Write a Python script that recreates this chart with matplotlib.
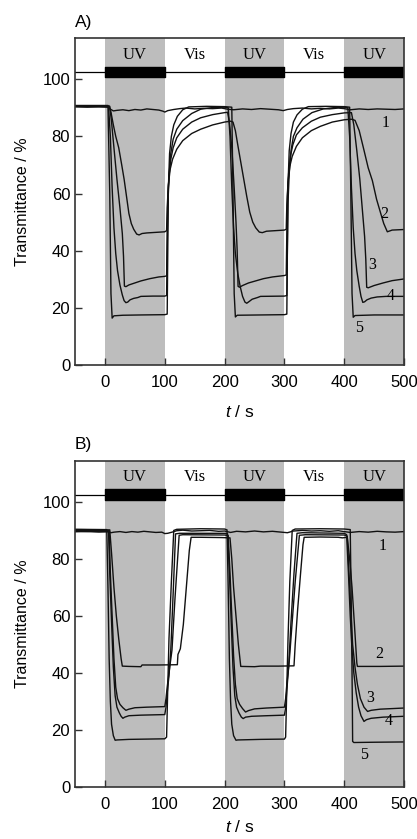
import matplotlib
matplotlib.use('Agg')
import matplotlib.pyplot as plt

plt.rcParams['font.family'] = ['Liberation Sans', 'DejaVu Sans']
plt.rcParams['mathtext.fontset'] = 'custom'
plt.rcParams['mathtext.it'] = 'Liberation Sans:italic'
plt.rcParams['mathtext.rm'] = 'Liberation Sans'

# light periods
uv_starts = [0, 200, 400]
vis_starts = [100, 300]
period = 100

# Panel A traces, (t / s, transmittance / %)
A1 = [(-50, 90.3), (-30, 90.2), (-10, 90.3), (5, 90.2), (10, 89.4), (14, 88.9), (20, 89.1), (30, 89.3),
      (40, 89.0), (50, 89.4), (60, 89.2), (70, 89.6), (80, 89.4), (90, 89.2), (97, 88.8), (100, 88.5),
      (105, 89.0), (115, 89.4), (125, 89.7), (135, 89.9), (150, 89.6), (165, 89.8), (180, 89.7),
      (195, 89.9), (205, 89.5), (215, 89.3), (230, 89.6), (245, 89.4), (260, 89.7), (275, 89.5),
      (290, 89.3), (298, 89.0), (305, 89.4), (315, 89.7), (330, 89.9), (345, 89.6), (360, 89.8),
      (375, 89.6), (390, 89.9), (400, 89.7), (410, 89.3), (425, 89.6), (440, 89.4), (455, 89.6),
      (470, 89.5), (485, 89.4), (500, 89.6)]
A2 = [(-50, 90.7), (7, 90.6), (10, 88.5), (14, 84), (18, 80), (23, 76), (28, 70), (32, 65), (36, 59),
      (40, 53), (44, 49.5), (48, 47.5), (53, 45.8), (57, 45.5), (62, 46.0), (70, 46.2), (85, 46.4),
      (100, 46.6), (103, 47), (104, 55), (106, 63), (109, 68.5), (113, 72), (120, 75.5), (130, 78.5),
      (145, 81), (160, 82.5), (180, 84), (200, 85), (210, 85.3), (214, 85.0), (218, 82), (222, 77),
      (227, 71), (232, 65), (237, 59), (242, 53.5), (247, 50), (252, 48), (258, 46.5), (263, 46.3),
      (270, 46.8), (285, 47.0), (300, 47.2), (303, 47.5), (304, 56), (306, 64), (309, 69.5), (313, 73),
      (320, 76.5), (330, 79.5), (345, 82), (360, 83.5), (380, 85), (400, 85.8), (412, 86.0),
      (418, 85.6), (425, 82), (432, 76), (440, 69), (447, 64.5), (454, 58), (461, 53), (466, 49.5),
      (472, 46.6), (480, 47.2), (490, 47.3), (500, 47.4)]
A3 = [(-50, 90.6), (8, 90.5), (11, 85), (15, 76), (20, 65), (25, 55), (29, 46), (31, 38), (32.5, 27.6),
      (35, 27.4), (40, 28.0), (50, 28.7), (60, 29.4), (75, 30.2), (90, 30.8), (100, 31.0), (103, 31.2),
      (104, 45), (105, 58), (107, 66), (110, 72), (114, 76), (120, 79.5), (130, 82.5), (145, 85),
      (160, 86.5), (180, 87.6), (200, 88.3), (205, 88.4), (208, 85), (212, 76), (216, 62), (219, 50),
      (221, 40), (222.5, 27.5), (225, 27.2), (230, 27.8), (240, 28.7), (250, 29.3), (265, 30.2),
      (280, 30.8), (300, 31.3), (303, 31.5), (304, 46), (305, 59), (307, 67), (310, 73), (314, 77),
      (320, 80.5), (330, 83), (345, 85.3), (360, 86.7), (380, 87.6), (400, 88.2), (412, 88.3),
      (416, 84), (421, 75), (426, 65), (430, 55), (434, 45), (436, 37), (437.5, 27.2), (440, 27.0),
      (450, 27.8), (465, 28.7), (480, 29.5), (500, 30.1)]
A4 = [(-50, 90.5), (6, 90.4), (9, 80), (12, 62), (15, 48), (18, 39), (21, 33), (25, 28), (29, 24.5),
      (32, 22.5), (35, 21.8), (38, 22.0), (42, 22.8), (48, 23.3), (55, 23.6), (60, 24.0), (80, 24.1),
      (100, 24.1), (103, 24.3), (104, 40), (105, 55), (107, 66), (110, 74), (114, 79), (120, 82.5),
      (130, 85.5), (145, 88), (160, 89.5), (180, 90.1), (200, 90.2), (206, 90.0), (209, 80), (212, 62),
      (215, 48), (218, 39), (222, 32), (226, 27.5), (230, 24), (234, 22), (237, 21.6), (241, 22.2),
      (246, 23), (255, 23.6), (260, 24), (300, 24.1), (304, 24.3), (305, 42), (306, 57), (308, 67),
      (311, 75), (315, 80), (321, 83), (331, 86), (346, 88.3), (365, 89.6), (385, 90.1), (400, 90.2),
      (406, 90.0), (409, 80), (412, 62), (415, 48), (418, 39), (421, 33), (425, 27.5), (428, 24),
      (431, 21.9), (434, 22.1), (438, 22.8), (445, 23.4), (455, 23.8), (470, 24.0), (500, 24.0)]
A5 = [(-50, 90.8), (5, 90.8), (8, 60), (10, 25), (12, 16.4), (15, 17.2), (30, 17.4), (60, 17.5),
      (100, 17.6), (104, 17.8), (105, 40), (106, 62), (108, 74), (111, 80), (115, 84), (121, 87),
      (130, 89.3), (140, 90.3), (170, 90.5), (200, 90.4), (212, 90.2), (214, 60), (216, 25), (218, 16.8),
      (221, 17.4), (260, 17.5), (300, 17.6), (304, 17.8), (305, 42), (306, 63), (308, 75), (311, 81),
      (315, 85), (321, 87.5), (330, 89.5), (340, 90.4), (370, 90.5), (400, 90.4), (409, 90.2),
      (411, 60), (413, 25), (415, 16.7), (418, 17.3), (450, 17.5), (500, 17.5)]

# Panel B traces
B1 = [(-50, 89.6), (-30, 89.8), (-10, 89.5), (5, 89.7), (10, 89.2), (15, 89.4), (25, 89.6), (35, 89.3),
      (45, 89.6), (55, 89.4), (65, 89.7), (75, 89.5), (85, 89.3), (95, 89.4), (100, 88.9), (105, 89.0),
      (112, 89.4), (120, 89.9), (130, 90.1), (145, 89.8), (160, 89.9), (175, 90.0), (190, 89.7),
      (200, 89.8), (210, 89.3), (220, 89.7), (235, 89.5), (250, 89.8), (265, 89.5), (280, 89.7),
      (295, 89.4), (305, 89.2), (315, 89.8), (330, 90.0), (345, 89.8), (360, 89.9), (375, 89.7),
      (390, 89.9), (400, 89.6), (410, 89.3), (425, 89.6), (440, 89.4), (455, 89.7), (470, 89.5),
      (485, 89.4), (500, 89.6)]
B2 = [(-50, 90.3), (8, 90.2), (11, 82), (15, 70), (19, 60), (23, 52), (27, 45), (29, 42.4), (40, 42.3),
      (60, 42.2), (62, 42.8), (90, 42.8), (121, 42.9), (122, 46.5), (126, 48.5), (131, 57), (136, 70),
      (141, 83), (144, 87.6), (160, 87.6), (195, 87.5), (209, 87.4), (212, 80), (215, 70), (219, 60),
      (223, 50), (227, 42.3), (250, 42.2), (260, 42.4), (290, 42.4), (316, 42.5), (318, 50), (322, 62),
      (327, 75), (331, 85), (333, 87.6), (360, 87.7), (390, 87.6), (397, 87.4), (405, 87.6), (409, 80),
      (413, 70), (417, 57), (421, 43.5), (422, 42.3), (460, 42.3), (500, 42.4)]
B3 = [(-50, 90.0), (7, 89.9), (9, 75), (12, 60), (15, 45), (18, 35), (21, 31), (25, 29), (30, 27.8),
      (35, 26.9), (40, 27.3), (50, 27.8), (70, 28.0), (100, 28.2), (102, 31), (104, 35), (107, 40),
      (112, 48), (117, 66), (124, 88.3), (130, 88.5), (200, 88.4), (206, 88.2), (209, 75), (212, 60),
      (215, 46), (218, 36), (221, 31), (225, 29), (230, 27.5), (235, 26.3), (240, 26.8), (250, 27.4),
      (270, 27.7), (300, 28.0), (302, 31), (304, 36), (308, 44), (313, 58), (318, 72), (325, 88.3),
      (335, 88.5), (400, 88.4), (405, 88.0), (408, 75), (411, 62), (414, 50), (418, 42), (422, 36),
      (427, 31), (433, 28), (439, 26.5), (445, 26.9), (460, 27.3), (480, 27.5), (500, 27.7)]
B4 = [(-50, 89.6), (6, 89.5), (8, 75), (11, 58), (14, 42), (17, 32), (20, 28), (24, 26), (27, 24.8),
      (30, 24.1), (33, 24.5), (40, 25.0), (60, 25.2), (100, 25.4), (102, 28), (104, 33), (107, 39),
      (110, 48), (114, 68), (118, 88.8), (125, 89.0), (200, 89.0), (205, 88.8), (208, 75), (211, 58),
      (214, 42), (217, 32), (220, 28), (224, 26), (228, 24.5), (231, 24.0), (235, 24.5), (245, 24.8),
      (270, 25.0), (300, 25.2), (302, 28), (304, 34), (307, 42), (311, 58), (316, 75), (321, 89.0),
      (330, 89.2), (400, 89.0), (404, 88.5), (407, 75), (410, 60), (413, 48), (416, 40), (420, 33),
      (424, 28), (428, 25), (433, 23.0), (437, 23.6), (445, 24.1), (465, 24.5), (500, 24.8)]
B5 = [(-50, 90.4), (3, 90.3), (5, 70), (7, 45), (9, 30), (11, 22), (14, 18), (17, 16.4), (20, 16.5),
      (40, 16.7), (70, 16.8), (100, 16.9), (103, 17.5), (105, 35), (107, 52), (111, 72), (115, 90.0),
      (120, 90.4), (160, 90.6), (200, 90.5), (204, 90.2), (206, 70), (208, 45), (210, 30), (212, 22),
      (215, 18), (219, 16.4), (222, 16.5), (260, 16.7), (300, 16.8), (302, 17.5), (304, 35), (306, 52),
      (309, 72), (313, 90.0), (318, 90.5), (360, 90.6), (400, 90.5), (410, 90.3), (412, 60),
      (413.5, 30), (414, 16), (416, 15.6), (450, 15.7), (500, 15.8)]

# curve number labels (t, T)
A_labels = {'1': (469, 84.5), '2': (467, 53), '3': (447, 35), '4': (478, 24), '5': (425, 12.8)}
B_labels = {'1': (464, 84.6), '2': (458, 46.5), '3': (444, 31.2), '4': (475, 23), '5': (433, 11.3)}

GRAY = '#bdbdbd'
SERIF = 'Liberation Serif'


def draw_panel(ax, curves, labels, tag, xpad):
    for s in uv_starts:
        ax.axvspan(s, s + period, color=GRAY, lw=0, zorder=0)
    ax.axhline(102.5, color='black', lw=0.9, zorder=2)
    ax.broken_barh([(s, period) for s in uv_starts], (100.6, 3.8), color='black', zorder=3)
    for s in uv_starts:
        ax.text(s + period / 2, 108.6, 'UV', family=SERIF, fontsize=12, ha='center', va='center')
    for s in vis_starts:
        ax.text(s + period / 2, 108.6, 'Vis', family=SERIF, fontsize=12, ha='center', va='center')

    for c in curves:
        t = [p[0] for p in c]
        y = [p[1] for p in c]
        ax.plot(t, y, color='#111111', lw=1.0, zorder=4)

    for k, (t, y) in labels.items():
        ax.text(t, y, k, family=SERIF, fontsize=11.5, ha='center', va='center', zorder=5)

    ax.set_xlim(-50, 500)
    ax.set_ylim(0, 114.5)
    ax.set_xticks([0, 100, 200, 300, 400, 500])
    ax.set_yticks([0, 20, 40, 60, 80, 100])
    ax.tick_params(direction='in', length=5, width=1.0, labelsize=12, color='#333333')
    ax.tick_params(axis='x', pad=7)
    for sp in ax.spines.values():
        sp.set_linewidth(1.2)
        sp.set_color('#333333')
        sp.set_zorder(6)
    ax.set_ylabel('Transmittance / %', fontsize=11.5, labelpad=9)
    ax.set_xlabel(r'$\mathit{t}$ / s', fontsize=12.5, labelpad=xpad)
    ax.text(0.0, 1.025, tag, transform=ax.transAxes, fontsize=12.5, ha='left', va='bottom')


fig = plt.figure(figsize=(4.17, 8.39), dpi=100)
axA = fig.add_axes([0.180, 0.565, 0.789, 0.390])
axB = fig.add_axes([0.180, 0.062, 0.789, 0.389])

draw_panel(axA, [A1, A2, A3, A4, A5], A_labels, 'A)', 10)
draw_panel(axB, [B1, B2, B3, B4, B5], B_labels, 'B)', 5)

fig.savefig('out.png', dpi=100)
